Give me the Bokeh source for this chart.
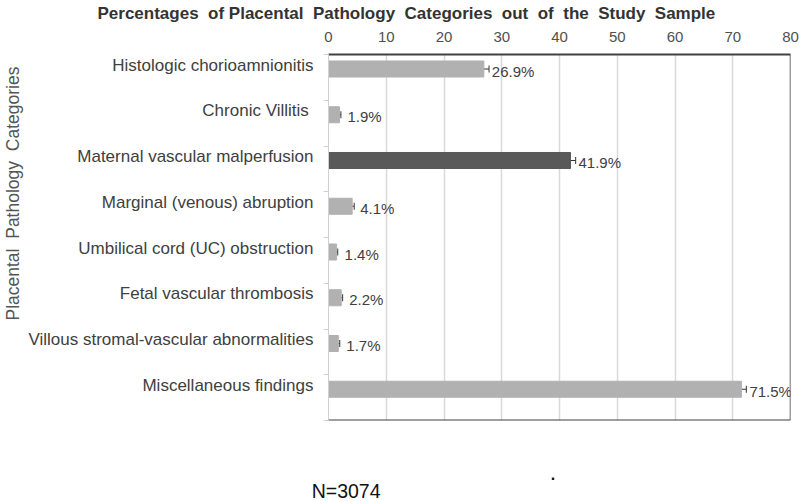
from bokeh.plotting import figure
from bokeh.layouts import column
from bokeh.models import (ColumnDataSource, Range1d, FixedTicker, LabelSet, Div,
                          Span, Whisker, TeeHead, Title)
from bokeh.core.properties import value
from bokeh.embed import file_html
from bokeh.resources import INLINE

NB = "\u00a0"
# ---- data ----
categories = [
    "Histologic chorioamnionitis",
    "Chronic Villitis" + NB,
    "Maternal vascular malperfusion",
    "Marginal (venous) abruption",
    "Umbilical cord (UC) obstruction",
    "Fetal vascular thrombosis",
    "Villous stromal-vascular abnormalities",
    "Miscellaneous findings",
]
percentages = [26.9, 1.9, 41.9, 4.1, 1.4, 2.2, 1.7, 71.5]
errors = [0.9, 0.25, 0.9, 0.35, 0.2, 0.25, 0.25, 0.85]
highlight = [False, False, True, False, False, False, False, False]
x_ticks = [0, 10, 20, 30, 40, 50, 60, 70, 80]
title_words = ["Percentages", "of", "Placental", "Pathology", "Categories",
               "out", "of", "the", "Study", "Sample"]
y_title_words = ["Placental", "Pathology", "Categories"]
sample_note = "N=3074"
stray_mark = "."

GAP = NB + " "
title_text = title_words[0] + GAP + title_words[1] + " " + GAP.join(title_words[2:])
y_title_text = GAP.join(y_title_words)

LIGHT = "#b1b1b1"
DARK = "#595959"
FONT = "Liberation Sans"

n = len(categories)
bar_off = 0.317
lab_off = 0.23
ys = [i + bar_off for i in range(n)]
src = ColumnDataSource(dict(
    y=ys,
    value=percentages,
    lower=[v - e for v, e in zip(percentages, errors)],
    upper=[v + e for v, e in zip(percentages, errors)],
    color=[DARK if h else LIGHT for h in highlight],
    label=[f"{v}%" for v in percentages],
))

p = figure(width=800, height=425, x_range=Range1d(0, 80), y_range=Range1d(n, 0),
           x_axis_location="above", output_backend="svg", toolbar_location=None,
           min_border_left=328, min_border_right=10, min_border_top=54, min_border_bottom=5)
p.outline_line_color = None
p.background_fill_color = "white"
p.border_fill_color = "white"

# title (above the top axis)
p.title.text = title_text
p.title.align = "left"
p.title.vertical_align = "top"
p.title.offset = 97 - 328
p.title.standoff = 7
p.title.text_font = FONT
p.title.text_font_size = "17px"
p.title.text_font_style = "bold"
p.title.text_color = "#333333"

p.hbar(y="y", left=0, right="value", height=0.35, color="color", source=src)

w = Whisker(source=src, base="y", lower="lower", upper="upper", dimension="width",
            line_color="#333333", line_width=1,
            lower_head=TeeHead(size=7, line_color="#333333", line_width=1),
            upper_head=TeeHead(size=7, line_color="#333333", line_width=1))
p.add_layout(w)

labels = LabelSet(x="value", y="y", text="label", source=src, x_offset=8, y_offset=-2,
                  text_baseline="middle", text_align="left",
                  text_font=value(FONT), text_font_size="15px", text_color="#404040")
p.add_layout(labels)

# x axis (top)
xa = p.xaxis[0]
xa.ticker = FixedTicker(ticks=x_ticks)
xa.major_tick_out = 0
xa.major_tick_in = 0
xa.minor_tick_out = 0
xa.minor_tick_in = 0
xa.axis_line_color = "#404040"
xa.axis_line_width = 2
xa.major_label_text_font = FONT
xa.major_label_text_font_size = "15px"
xa.major_label_text_color = "#505050"
xa.major_label_standoff = 13

# y axis
ya = p.yaxis[0]
ya.ticker = FixedTicker(ticks=[i + lab_off for i in range(n)], minor_ticks=list(range(n + 1)))
ya.major_label_overrides = {i + lab_off: c for i, c in enumerate(categories)}
ya.major_tick_out = 0
ya.major_tick_in = 0
ya.minor_tick_out = 5
ya.minor_tick_in = 0
ya.minor_tick_line_color = "#d0d0d0"
ya.axis_line_color = "#d0d0d0"
ya.axis_line_width = 1
ya.major_label_text_font = FONT
ya.major_label_text_font_size = "17px"
ya.major_label_text_color = "#404040"
ya.major_label_standoff = 10

p.xgrid.grid_line_color = "#d9d9d9"
p.xgrid.grid_line_width = 1.5
p.ygrid.grid_line_color = None

# frame borders (right and bottom)
p.add_layout(Span(location=80, dimension="height", line_color="#404040", line_width=1.5))
p.add_layout(Span(location=n, dimension="width", line_color="#404040", line_width=2))

# y title on the left, shifted upward
p.add_layout(Title(text=y_title_text, align="left", vertical_align="top", offset=100, standoff=2,
                   text_font=FONT, text_font_size="17.5px", text_font_style="normal",
                   text_color="#555555"), "left")

# strip below the chart with the sample size note
note_html = (
    '<div style="position:relative;width:800px;height:76px;'
    f'font-family:\'{FONT}\';color:#111111;">'
    '<span style="position:absolute;left:311.7px;top:56.8px;font-size:19.5px;'
    f'line-height:19.5px;white-space:nowrap;">{sample_note}</span>'
    '<span style="position:absolute;left:550.8px;top:41.5px;font-size:16px;'
    f'font-weight:bold;line-height:16px;">{stray_mark}</span>'
    '</div>'
)
note = Div(text=note_html, width=800, height=76, margin=(0, 0, 0, 0))

layout = column(p, note, spacing=0)
open("out.html", "w").write(file_html(layout, INLINE))
